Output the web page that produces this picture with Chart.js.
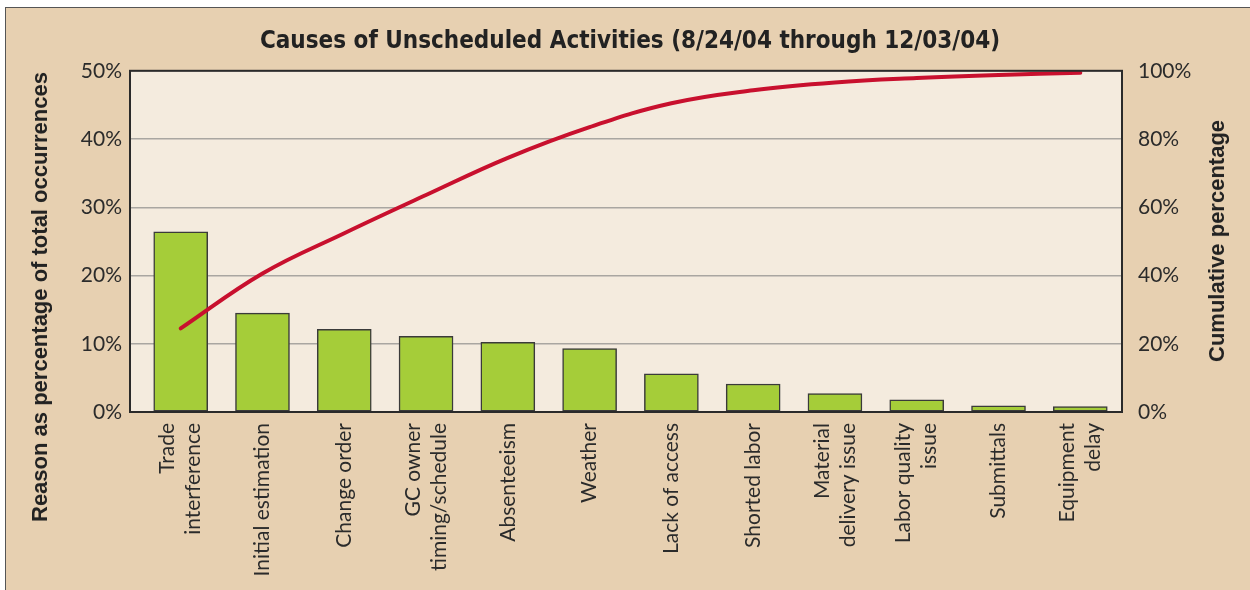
<html>
<head>
<meta charset="utf-8">
<script src="https://cdn.jsdelivr.net/npm/chart.js@4.4.1/dist/chart.umd.min.js"></script>
<style>
body {margin:0; background:#fff;}
#frame {
  position:absolute; left:5px; top:7px; width:1250px; height:590px;
  background:#e7d0b1;
  border-left:1.5px solid #555; border-top:1.5px solid #555;
}
#wrap {position:absolute; left:0; top:0; width:1250px; height:590px;}
.ytitle {
  position:absolute; white-space:nowrap;
  font-family:"Liberation Sans", Arial, sans-serif; font-weight:bold; font-size:22px; color:#222;
  transform:translate(-50%,-50%) rotate(-90deg);
}
</style>
</head>
<body>
<div id="frame"></div>
<div id="wrap"><canvas id="canvas" width="1250" height="590"></canvas></div>
<div class="ytitle" style="left:40px;top:297px;">Reason as percentage of total occurrences</div>
<div class="ytitle" style="left:1217px;top:241px;">Cumulative percentage</div>
<script>
// data
var categories = [
  ['Trade','interference'], 'Initial estimation', 'Change order', ['GC owner','timing/schedule'],
  'Absenteeism', 'Weather', 'Lack of access', 'Shorted labor', ['Material','delivery issue'],
  ['Labor quality','issue'], 'Submittals', ['Equipment','delay']
];
var share = [26.4, 14.5, 12.1, 11.1, 10.2, 9.3, 5.6, 4.1, 2.7, 1.8, 0.9, 0.8];
var cumulative = [24.5, 40.6, 52.4, 63.6, 74.5, 83.5, 90.5, 94.3, 96.6, 97.9, 98.8, 99.4];
var leftTicks = [0, 10, 20, 30, 40, 50];
var rightTicks = [0, 20, 40, 60, 80, 100];

var plotBg = '#f4ebde';
var textCol = '#2b2b2b';

var plotFrame = {
  id: 'plotFrame',
  beforeDraw: function(chart) {
    var a = chart.chartArea, ctx = chart.ctx;
    ctx.save();
    ctx.fillStyle = plotBg;
    ctx.fillRect(a.left, a.top, a.right - a.left, a.bottom - a.top);
    ctx.restore();
  },
  afterDatasetsDraw: function(chart) {
    var a = chart.chartArea, ctx = chart.ctx;
    ctx.save();
    ctx.strokeStyle = '#2a2a2a';
    ctx.lineWidth = 2;
    ctx.strokeRect(a.left, a.top, a.right - a.left, a.bottom - a.top);
    ctx.restore();
  },
  afterDraw: function(chart) {
    // category labels, rotated, multi-line blocks centred on the bar
    var xs = chart.scales.x, ctx = chart.ctx;
    ctx.save();
    ctx.font = '21px Lato, sans-serif';
    ctx.fillStyle = textCol;
    ctx.textAlign = 'right';
    ctx.textBaseline = 'middle';
    for (var i = 0; i < categories.length; i++) {
      var lines = Array.isArray(categories[i]) ? categories[i] : [categories[i]];
      var xc = xs.getPixelForValue(i);
      for (var j = 0; j < lines.length; j++) {
        ctx.save();
        ctx.translate(xc + (j - (lines.length - 1) / 2) * 26, xs.top + 11);
        ctx.rotate(-Math.PI / 2);
        ctx.fillText(lines[j], 0, 0);
        ctx.restore();
      }
    }
    ctx.restore();
  }
};

var barData = share.map(function(v, i) { return {x: i, y: v}; });
var lineData = cumulative.map(function(v, i) { return {x: i, y: v}; });

var ctx = document.getElementById('canvas').getContext('2d');
new Chart(ctx, {
  type: 'bar',
  data: {
    datasets: [
      {
        type: 'line',
        data: lineData,
        yAxisID: 'y2',
        borderColor: '#c8102e',
        borderWidth: 4,
        borderCapStyle: 'round',
        pointRadius: 0,
        tension: 0.4,
        order: 1
      },
      {
        type: 'bar',
        data: barData,
        yAxisID: 'y',
        backgroundColor: '#a5cd39',
        borderColor: '#3a3a3a',
        borderWidth: 1.5,
        borderSkipped: false,
        barThickness: 54,
        order: 2
      }
    ]
  },
  options: {
    responsive: false,
    animation: false,
    layout: {padding: {left: 10}},
    plugins: {
      legend: {display: false},
      tooltip: {enabled: false},
      title: {
        display: true,
        text: 'Causes of Unscheduled Activities (8/24/04 through 12/03/04)',
        color: '#222',
        font: {family: '"Liberation Sans Narrow", "DejaVu Sans Condensed", sans-serif', size: 24, weight: 'bold'},
        padding: {top: 27, bottom: 15}
      }
    },
    scales: {
      x: {
        type: 'linear',
        offset: false,
        min: -0.62, max: 11.51,
        grid: {display: false},
        border: {display: false},
        ticks: {display: false},
        afterFit: function(s) { s.height = 178; }
      },
      y: {
        position: 'left',
        min: 0, max: 50,
        afterBuildTicks: function(s) { s.ticks = leftTicks.map(function(v) { return {value: v}; }); },
        grid: {color: '#a9a6a1', lineWidth: 1.5, drawTicks: false},
        border: {display: false},
        ticks: {
          padding: 8, color: textCol,
          font: {family: 'Lato, sans-serif', size: 21},
          callback: function(v) { return v + '%'; }
        },
        afterFit: function(s) { s.width = 120; }
      },
      y2: {
        position: 'right',
        min: 0, max: 100,
        afterBuildTicks: function(s) { s.ticks = rightTicks.map(function(v) { return {value: v}; }); },
        grid: {display: false},
        border: {display: false},
        ticks: {
          padding: 8, color: textCol,
          font: {family: 'Lato, sans-serif', size: 21},
          callback: function(v) { return v + '%'; }
        },
        afterFit: function(s) { s.width = 128; }
      }
    }
  },
  plugins: [plotFrame]
});
</script>
</body>
</html>
